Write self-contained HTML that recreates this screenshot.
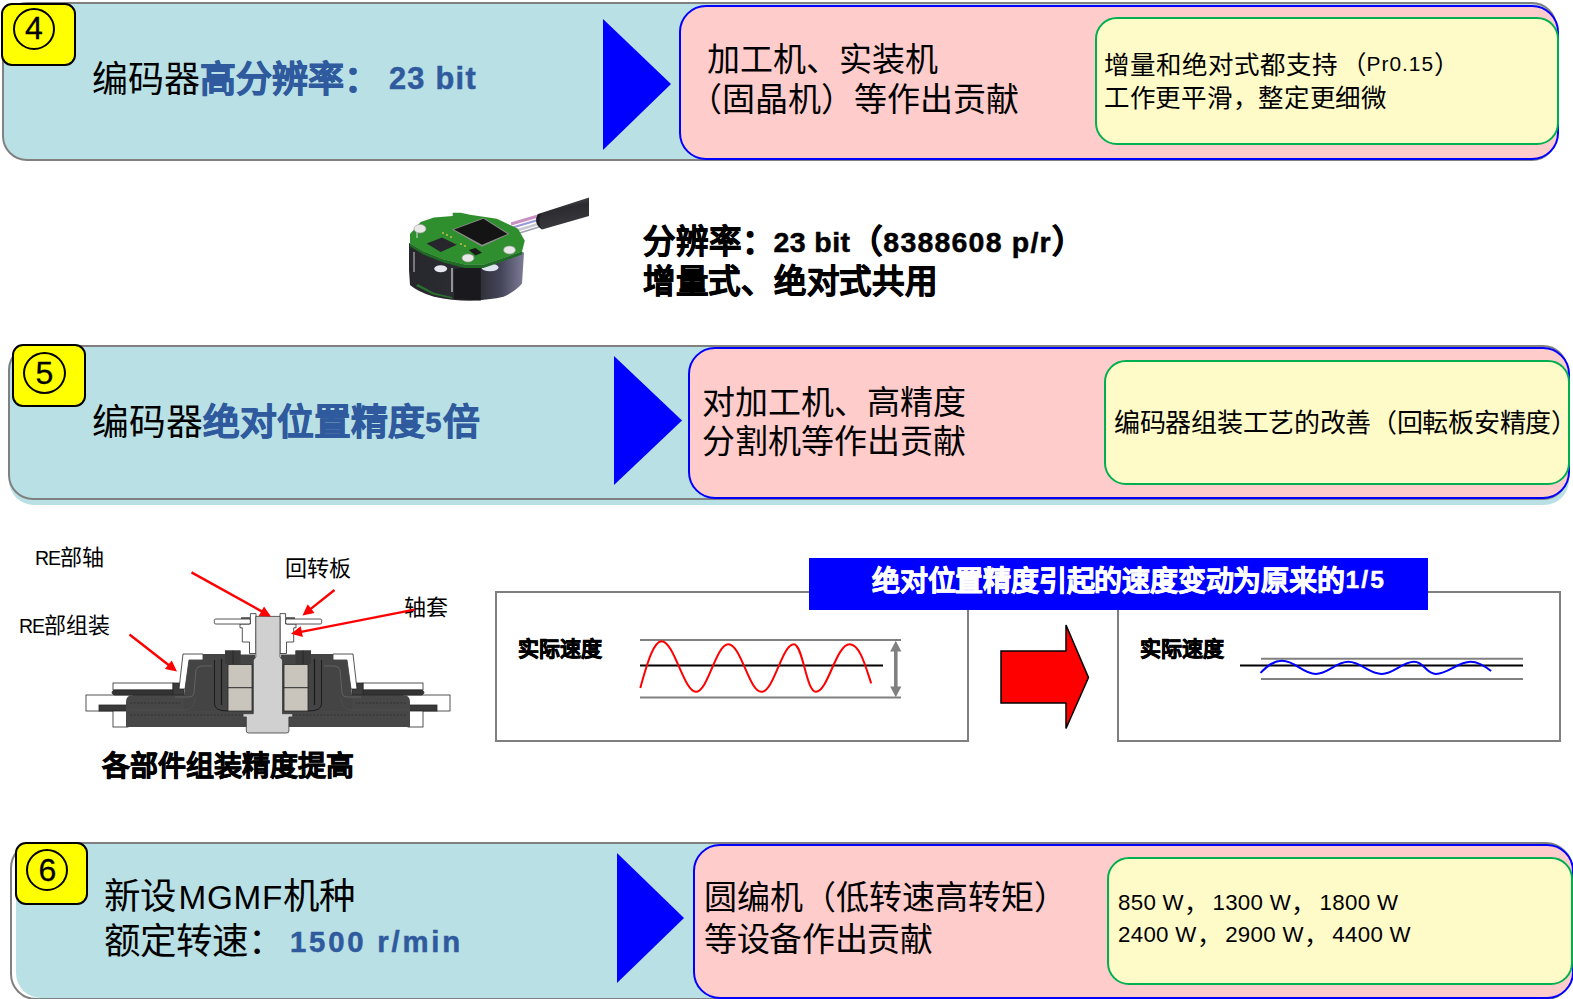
<!DOCTYPE html>
<html lang="zh-CN"><head><meta charset="utf-8">
<style>
html,body{margin:0;padding:0;background:#fff;}
body{width:1573px;height:999px;overflow:hidden;position:relative;font-family:"Liberation Sans",sans-serif;color:#000;}
.a{position:absolute;box-sizing:border-box;}
.t{position:absolute;white-space:nowrap;line-height:1;}
.teal{background:#B9E0E4;border:2px solid #808080;border-radius:25px;}
.pink{background:#FFCCCC;border:2px solid #0000FF;border-radius:27px;}
.yel{background:#FFFBC9;border:2px solid #00B050;border-radius:22px;}
.badge{background:#FFFF00;border:2px solid #000;border-radius:11px;}
.circ{position:absolute;box-sizing:border-box;border:2.1px solid #000;border-radius:50%;}
.num{position:absolute;font-size:32px;line-height:1;text-align:center;-webkit-text-stroke:0.3px #000;}
.blue{color:#2F5A9E;font-weight:bold;-webkit-text-stroke:0.8px #2F5A9E;}
.bd{font-weight:bold;-webkit-text-stroke:0.7px currentColor;}
.L{-webkit-text-stroke:0 !important;}
.LB{-webkit-text-stroke:0.5px currentColor !important;}
svg{position:absolute;left:0;top:0;}
</style></head><body>

<!-- ===== Section 4 ===== -->
<div class="a teal" style="left:2px;top:2px;width:1555px;height:159px;"></div>
<svg width="1573" height="999" style="z-index:1">
  <polygon points="603,19 603,150 671,84" fill="#0000FF"/>
</svg>
<div class="a pink" style="left:679px;top:4.5px;width:880px;height:155px;z-index:2"></div>
<div class="a yel" style="left:1095px;top:17px;width:464px;height:128px;z-index:3"></div>
<div class="a badge" style="left:1px;top:3px;width:75px;height:63px;z-index:4"></div>
<div class="circ" style="left:13px;top:8px;width:42px;height:42px;z-index:5"></div>
<div class="num" id="n4" style="left:13px;top:12.3px;width:42px;z-index:5">4</div>

<div class="t" id="s4l" style="left:92px;top:61.5px;font-size:36px;z-index:5">编码器<span class="blue">高分辨率：</span><span class="blue L LB" id="L1" style="font-size:30.7px;letter-spacing:1.3px;margin-left:9px;position:relative;top:-2.2px">23 bit</span></div>
<div class="t" id="s4p1" style="left:707px;top:42.5px;font-size:33px;z-index:5">加工机、实装机</div>
<div class="t" id="s4p2" style="left:689px;top:82.5px;font-size:33px;z-index:5">（固晶机）等作出贡献</div>
<div class="t" id="s4y1" style="left:1104px;top:52.5px;font-size:25.5px;z-index:5">增量和绝对式都支持<span style="letter-spacing:-4.6px"> </span>（<span class="L" id="L4" style="font-size:20.9px;letter-spacing:1px;margin-left:0px;position:relative;top:-2.5px">Pr0.15</span>）</div>
<div class="t" id="s4y2" style="left:1104px;top:86.3px;font-size:25.5px;letter-spacing:-0.3px;z-index:5">工作更平滑，整定更细微</div>

<!-- ===== Middle encoder ===== -->
<div class="t bd" id="mid1" style="left:643px;top:226px;font-size:32.5px;font-weight:bold;">分辨率：<span class="L LB" id="L2" style="font-size:28.5px;letter-spacing:0.4px;margin-left:-1.5px;position:relative;top:-1.3px">23 bit</span>（<span class="L LB" id="L3" style="font-size:28.5px;letter-spacing:1.2px;position:relative;top:-1.3px">8388608 p/r</span>）</div>
<div class="t bd" id="mid2" style="left:643px;top:266.2px;letter-spacing:-0.28px;font-size:32.5px;font-weight:bold;">增量式、绝对式共用</div>


<!-- ===== Section 5 ===== -->
<div class="a" style="left:9px;top:351px;width:1560px;height:154px;background:#B9E0E4;border-radius:25px;"></div>
<div class="a teal" style="left:8px;top:345px;width:1560px;height:155px;"></div>
<svg width="1573" height="999" style="z-index:1">
  <polygon points="614,356 614,485 682,420.5" fill="#0000FF"/>
</svg>
<div class="a pink" style="left:688px;top:347px;width:882px;height:152px;z-index:2"></div>
<div class="a yel" style="left:1104px;top:360px;width:466px;height:125px;z-index:3"></div>
<div class="a badge" style="left:12px;top:344px;width:74px;height:63px;z-index:4"></div>
<div class="circ" style="left:23px;top:352px;width:43px;height:42px;z-index:5"></div>
<div class="num" id="n5" style="left:23px;top:357px;width:43px;z-index:5">5</div>

<div class="t" id="s5l" style="left:92px;top:404.5px;font-size:36.8px;z-index:5">编码器<span class="blue">绝对位置精度</span><span class="blue L LB" id="L5" style="font-size:28.5px;position:relative;top:-2.6px;margin-left:0.5px;margin-right:2px;-webkit-text-stroke:0.9px #2F5A9E !important">5</span><span class="blue">倍</span></div>
<div class="t" id="s5p1" style="left:702px;top:386px;font-size:33px;z-index:5">对加工机、高精度</div>
<div class="t" id="s5p2" style="left:702px;top:425.4px;font-size:33px;z-index:5">分割机等作出贡献</div>
<div class="t" id="s5y" style="left:1114px;top:410px;font-size:26px;letter-spacing:-0.3px;z-index:5">编码器组装工艺的改善（回転板安精度）</div>

<!-- ===== Section 6 ===== -->
<div class="a" style="left:16px;top:843px;width:1557px;height:155px;background:#B9E0E4;border-radius:25px;"></div>
<div class="a" style="left:10px;top:842px;width:1562px;height:158px;border:2px solid #808080;border-radius:26px;"></div>
<svg width="1573" height="999" style="z-index:1">
  <polygon points="617,853 617,983 684,918" fill="#0000FF"/>
</svg>
<div class="a pink" style="left:693px;top:844px;width:881px;height:155px;z-index:2"></div>
<div class="a yel" style="left:1107px;top:857px;width:466px;height:128px;z-index:3"></div>
<div class="a badge" style="left:15px;top:842px;width:73px;height:63px;z-index:4"></div>
<div class="circ" style="left:26px;top:849px;width:42px;height:42px;z-index:5"></div>
<div class="num" id="n6" style="left:26.5px;top:854px;width:42px;z-index:5">6</div>

<div class="t" id="s6l1" style="left:104px;top:879.3px;font-size:36.5px;z-index:5">新设<span class="L" id="L6" style="font-size:33.3px;letter-spacing:0.7px;margin-left:2.5px">MGMF</span>机种</div>
<div class="t" id="s6l2" style="left:104px;top:924px;font-size:36.5px;z-index:5">额定转速：<span class="blue L LB" id="L7" style="font-size:29.3px;letter-spacing:2.8px;margin-left:6px;position:relative;top:-1.8px">1500 r/min</span></div>
<div class="t" id="s6p1" style="left:704px;top:881px;font-size:33px;z-index:5">圆编机（低转速高转矩）</div>
<div class="t" id="s6p2" style="left:704px;top:922.5px;letter-spacing:-0.35px;font-size:33px;z-index:5">等设备作出贡献</div>
<div class="t" id="s6y1" style="left:1118px;top:891px;font-size:25px;z-index:5"><span class="L" id="L8" style="font-size:22.3px;letter-spacing:0.3px;position:relative;top:-1.6px">850 W</span><span style="letter-spacing:3.5px">，</span><span class="L" style="font-size:22.3px;letter-spacing:0.3px;position:relative;top:-1.6px">1300 W</span><span style="letter-spacing:3.5px">，</span><span class="L" style="font-size:22.3px;letter-spacing:0.3px;position:relative;top:-1.6px">1800 W</span></div>
<div class="t" id="s6y2" style="left:1118px;top:923px;font-size:25px;z-index:5"><span class="L" style="font-size:22.3px;letter-spacing:0.3px;position:relative;top:-1.6px">2400 W</span><span style="letter-spacing:3.5px">，</span><span class="L" style="font-size:22.3px;letter-spacing:0.3px;position:relative;top:-1.6px">2900 W</span><span style="letter-spacing:3.5px">，</span><span class="L" style="font-size:22.3px;letter-spacing:0.3px;position:relative;top:-1.6px">4400 W</span></div>


<!-- ===== Encoder picture ===== -->
<svg width="1573" height="999">
  <defs>
    <linearGradient id="cab" x1="0" y1="0" x2="0.3" y2="1">
      <stop offset="0" stop-color="#606066"/><stop offset="0.45" stop-color="#2c2c30"/><stop offset="1" stop-color="#38383e"/>
    </linearGradient>
    <linearGradient id="bod" x1="0" y1="0" x2="1" y2="0">
      <stop offset="0" stop-color="#26262c"/><stop offset="0.6" stop-color="#2e2e36"/><stop offset="0.8" stop-color="#45455a"/><stop offset="1" stop-color="#7c7c98"/>
    </linearGradient>
  </defs>
  <!-- wires -->
  <path d="M511,224 L538,216" stroke="#c890c0" stroke-width="3"/>
  <path d="M511,228 L538,220" stroke="#9a9ad8" stroke-width="2"/>
  <path d="M512,232 L538,224" stroke="#c8c8d0" stroke-width="2.5"/>
  <path d="M513,235 L539,227" stroke="#a0a0b0" stroke-width="1.5"/>
  <!-- cable -->
  <path d="M538,214 L589,197.5 L589,216 L542,229.5 Q533,224 538,214 Z" fill="url(#cab)"/>
  <path d="M538,214 Q533,222 542,229.5 Q537,222 541,214 Z" fill="#1c1c20"/>
  <!-- body -->
  <path d="M409,243 L409,270 L410,285 Q418,292 434,296.8 Q452,300.8 470,300.8 Q490,300 503.5,296.8 Q516,291 522,283.5 L524,252.7 L522,251.4 L499.5,259.4 L483.5,264.8 L464.8,264.8 L443.4,259.4 L423.4,251.4 Z" fill="url(#bod)"/>
  <path d="M418,284 L434,292.8 L452,297 L452,298.6 L433,294.6 L416,286 Z" fill="#2a6e2e"/>
  <path d="M454,268.8 L480.8,266 L480.8,300.6 L454,299 Z" fill="#1a1a1e"/>
  <line x1="452" y1="268" x2="452" y2="292" stroke="#d8d8dc" stroke-width="1.2"/>
  <line x1="414" y1="252" x2="414" y2="272" stroke="#c8c8cc" stroke-width="1"/>
  <ellipse cx="440.7" cy="268.8" rx="6.5" ry="3.5" fill="#e6e6ee"/>
  <ellipse cx="490" cy="267.5" rx="8.5" ry="3.8" fill="#dfe6f0"/>
  <!-- PCB -->
  <path d="M410,234 L420.7,222 L434,217.4 L452.7,216 L452.7,212.7 L460.8,212.7 L470,214.7 L496.8,218.7 L518,228.7 L524.8,240.7 L522,251.4 L499.5,259.4 L483.5,264.8 L464.8,264.8 L443.4,259.4 L423.4,251.4 L410,243.4 Z" fill="#2f8f2f"/>
  <path d="M410,243.4 L423.4,251.4 L443.4,259.4 L464.8,264.8 L483.5,264.8 L499.5,259.4 L522,251.4 L522,254.5 L499.5,262.5 L483.5,268 L464.8,268 L443.4,262.5 L423.4,254.5 L410,246.5 Z" fill="#1f6a24"/>
  <!-- chips -->
  <polygon points="452,229.4 483.5,217.7 509.5,234 482,246.7" fill="#8c8c8c"/>
  <polygon points="454,229.4 483.5,218.7 507.5,234 482,244.7" fill="#141414"/>
  <polygon points="426.7,243.4 442,237.4 456.8,244.7 440.7,252" fill="#26262c"/>
  <polygon points="468.8,250 475.4,248 482,252.7 475.4,255.4" fill="#1a1a1a"/>
  <!-- pads -->
  <g fill="#d8c040"><circle cx="443" cy="233" r="0.9"/><circle cx="447" cy="235" r="0.9"/><circle cx="451" cy="237" r="0.9"/><circle cx="461" cy="244" r="0.9"/><circle cx="465" cy="246" r="0.9"/></g>
  <!-- screws -->
  <line x1="417" y1="231" x2="417" y2="238" stroke="#ddd" stroke-width="1"/>
  <ellipse cx="420" cy="228.7" rx="6" ry="4.3" fill="#e8e8e8" stroke="#9a9a9a" stroke-width="0.6"/>
  <ellipse cx="509.5" cy="250" rx="6" ry="4" fill="#e8e8e8" stroke="#9a9a9a" stroke-width="0.6"/>
  <ellipse cx="468" cy="258" rx="6" ry="4" fill="#e8e8e8" stroke="#9a9a9a" stroke-width="0.6"/>
</svg>

<!-- ===== Cross-section diagram ===== -->
<svg width="1573" height="999">
  <g id="half" stroke="#2a2a2a" stroke-width="0.8">
    <rect x="86" y="695" width="44" height="16" fill="#fff"/>
    <rect x="99" y="705" width="31" height="6" fill="#3a3a3a"/>
    <rect x="113" y="711" width="15" height="16" fill="#fff"/>
    <path d="M126,702 Q126,695 133,695 L268,695 L268,727 L126,727 Z" fill="#474747" stroke="none"/>
    <rect x="113" y="683" width="60" height="7" fill="#fff"/>
    <path d="M114,690 L173,690 L173,695 L114,695 Q110,692.5 114,690 Z" fill="#333"/>
    <rect x="173" y="683" width="11" height="12" fill="#3c3c3c"/>
    <polygon points="179,689 183,654 203,654 203,660 189,660 185,689" fill="#fff"/>
    <polygon points="184,695 189,660 203,660 203,654 225,654 225,650.5 240.5,650.5 240.5,654.5 255,654.5 255,711 184,711" fill="#444" stroke="none"/>
    <path d="M221.5,659 L221.5,705" fill="none" stroke="#1c1c1c" stroke-width="1.3"/>
    <path d="M228,711 Q214.5,711 214.5,704 L214.5,660" fill="none" stroke="#1c1c1c" stroke-width="1"/>
    <path d="M175,697 L190,697 Q193,697 194,693 L196,670 Q197,666 202,666 L212,666" fill="none" stroke="#6a6a6a" stroke-width="0.8"/>
    <path d="M126,710 L185,710 Q190,710 193,706 L196,697" fill="none" stroke="#5a5a5a" stroke-width="0.7" stroke-dasharray="1.5,1"/>
    <rect x="225" y="650.5" width="15.5" height="13.5" fill="#3a3a3a" stroke="none"/>
    <line x1="233" y1="650.5" x2="233" y2="664" stroke="#222" stroke-width="0.8"/>
    <rect x="228" y="664.5" width="24" height="23.3" fill="#C9C5BC"/>
    <rect x="228" y="687.8" width="24" height="23.2" fill="#C9C5BC"/>
    <line x1="130" y1="715" x2="250" y2="715" stroke="#222" stroke-width="0.6" stroke-dasharray="2,1.5"/>
    <line x1="130" y1="703" x2="180" y2="703" stroke="#222" stroke-width="0.6" stroke-dasharray="2,1.5"/>
    <polygon points="250.4,613.6 256,613.6 256,653.5 249.5,653.5 249.5,642 242.3,642 242.3,627.8 240,627.8 240,624 250.4,624" fill="#fff"/>
    <rect x="214.3" y="619" width="36" height="5" rx="1.5" fill="#fff"/>
    <line x1="241" y1="618" x2="250" y2="618" stroke="#111" stroke-width="1.2"/>
  </g>
  <use href="#half" transform="translate(536,0) scale(-1,1)"/>
  <path d="M255.8,616.4 L280,616.4 L280,657 L282.5,660 L282.5,713.7 L292.7,713.7 L292.7,717 L288.9,717 L288.9,731 Q288.9,733 286.5,733 L248.7,733 Q246.3,733 246.3,731 L246.3,717 L243,717 L243,713.7 L253.3,713.7 L253.3,660 L255.8,657 Z" fill="#D0D0D0" stroke="#3a3a3a" stroke-width="0.8"/>
</svg>

<!-- ===== Diagram labels ===== -->
<div class="t" id="lb1" style="left:35px;top:547px;font-size:22px;"><span style="font-size:19.5px;letter-spacing:-1.2px">RE</span>部轴</div>
<div class="t" id="lb2" style="left:285px;top:558px;font-size:22px;">回转板</div>
<div class="t" id="lb3" style="left:404px;top:596.5px;font-size:22px;">轴套</div>
<div class="t" id="lb4" style="left:19px;top:615px;font-size:22px;"><span style="font-size:19.5px;letter-spacing:-1.2px">RE</span>部组装</div>
<div class="t bd" id="cap" style="left:102px;top:753px;font-size:28px;font-weight:bold;">各部件组装精度提高</div>

<!-- ===== Charts ===== -->
<div class="a" style="left:495px;top:591px;width:474px;height:151px;border:2px solid #7F7F7F;"></div>
<div class="a" style="left:1117px;top:591px;width:444px;height:151px;border:2px solid #7F7F7F;"></div>
<div class="a" style="left:809px;top:558px;width:619px;height:52px;background:#0000FF;"></div>
<div class="t bd" id="ban" style="left:872px;top:567.5px;font-size:28px;letter-spacing:-0.2px;font-weight:bold;color:#fff;">绝对位置精度引起的速度变动为原来的<span class="L LB" id="L9" style="font-size:24.5px;letter-spacing:2.1px;margin-left:1px;position:relative;top:-2.2px">1/5</span></div>
<div class="t bd" id="cl1" style="left:518px;top:637.5px;font-size:21px;font-weight:bold;">实际速度</div>
<div class="t bd" id="cl2" style="left:1140px;top:637.5px;font-size:21px;font-weight:bold;">实际速度</div>
<svg width="1573" height="999">
  <!-- left chart -->
  <line x1="640" y1="640" x2="901" y2="640" stroke="#808080" stroke-width="2"/>
  <line x1="640" y1="697.5" x2="901" y2="697.5" stroke="#808080" stroke-width="2"/>
  <line x1="640" y1="665.5" x2="883" y2="665.5" stroke="#000" stroke-width="2"/>
  <path d="M640.3,687.9 C648,660 654,641.2 661.7,641.2 C674,641.2 684,691.8 695.9,691.8 C708,691.8 716,644.2 728.3,644.2 C741,644.2 749,691.8 761.4,691.8 C774,691.8 782,644.2 793.8,644.2 C803,644.2 806,691.8 816,691.8 C828,691.8 836,644.2 849.8,644.2 C860,644.2 866,668 871.2,683.4" fill="none" stroke="#FF0000" stroke-width="2"/>
  <!-- double arrow -->
  <polygon points="895.8,640.7 901.4,651.4 897.6,651.4 897.6,686.6 901.4,686.6 895.8,697.3 890.2,686.6 894,686.6 894,651.4 890.2,651.4" fill="#808080"/>
  <!-- red arrow -->
  <polygon points="1001,651 1066,651 1066,625 1088.5,677.6 1066,728.5 1066,703 1001,703" fill="#FF0000" stroke="#000" stroke-width="1.5"/>
  <!-- right chart -->
  <line x1="1261" y1="658.7" x2="1523" y2="658.7" stroke="#808080" stroke-width="2"/>
  <line x1="1261" y1="679" x2="1523" y2="679" stroke="#808080" stroke-width="2"/>
  <line x1="1240" y1="665.6" x2="1523" y2="665.6" stroke="#000" stroke-width="2"/>
  <path d="M1260.5,672.9 C1268,665 1274,660.7 1282.2,660.7 C1295,660.7 1303,673.9 1315.7,673.9 C1328,673.9 1336,661.7 1348.3,661.7 C1361,661.7 1369,673.9 1381.8,673.9 C1394,673.9 1402,661.7 1414.3,661.7 C1424,661.7 1426,673.9 1436,673.9 C1448,673.9 1458,661.7 1470.4,661.7 C1479,661.7 1485,666 1491.1,671.1" fill="none" stroke="#0000FF" stroke-width="2"/>
  <!-- diagram arrows -->
  <g stroke="#FF0000" fill="#FF0000">
    <line x1="191.5" y1="572.4" x2="263.1" y2="612.1" stroke-width="2.4"/><polygon points="271.0,616.5 258.7,616.0 264.0,606.4" stroke="none"/>
    <line x1="334.5" y1="590.0" x2="309.5" y2="609.9" stroke-width="2.4"/><polygon points="302.5,615.5 307.7,604.3 314.5,612.9" stroke="none"/>
    <line x1="414.6" y1="609.6" x2="299.8" y2="632.1" stroke-width="2.4"/><polygon points="291.0,633.8 300.7,626.3 302.9,637.1" stroke="none"/>
    <line x1="129.5" y1="634.5" x2="169.9" y2="666.0" stroke-width="2.4"/><polygon points="177.0,671.5 164.9,669.1 171.7,660.4" stroke="none"/>
  </g>
</svg>

</body></html>
